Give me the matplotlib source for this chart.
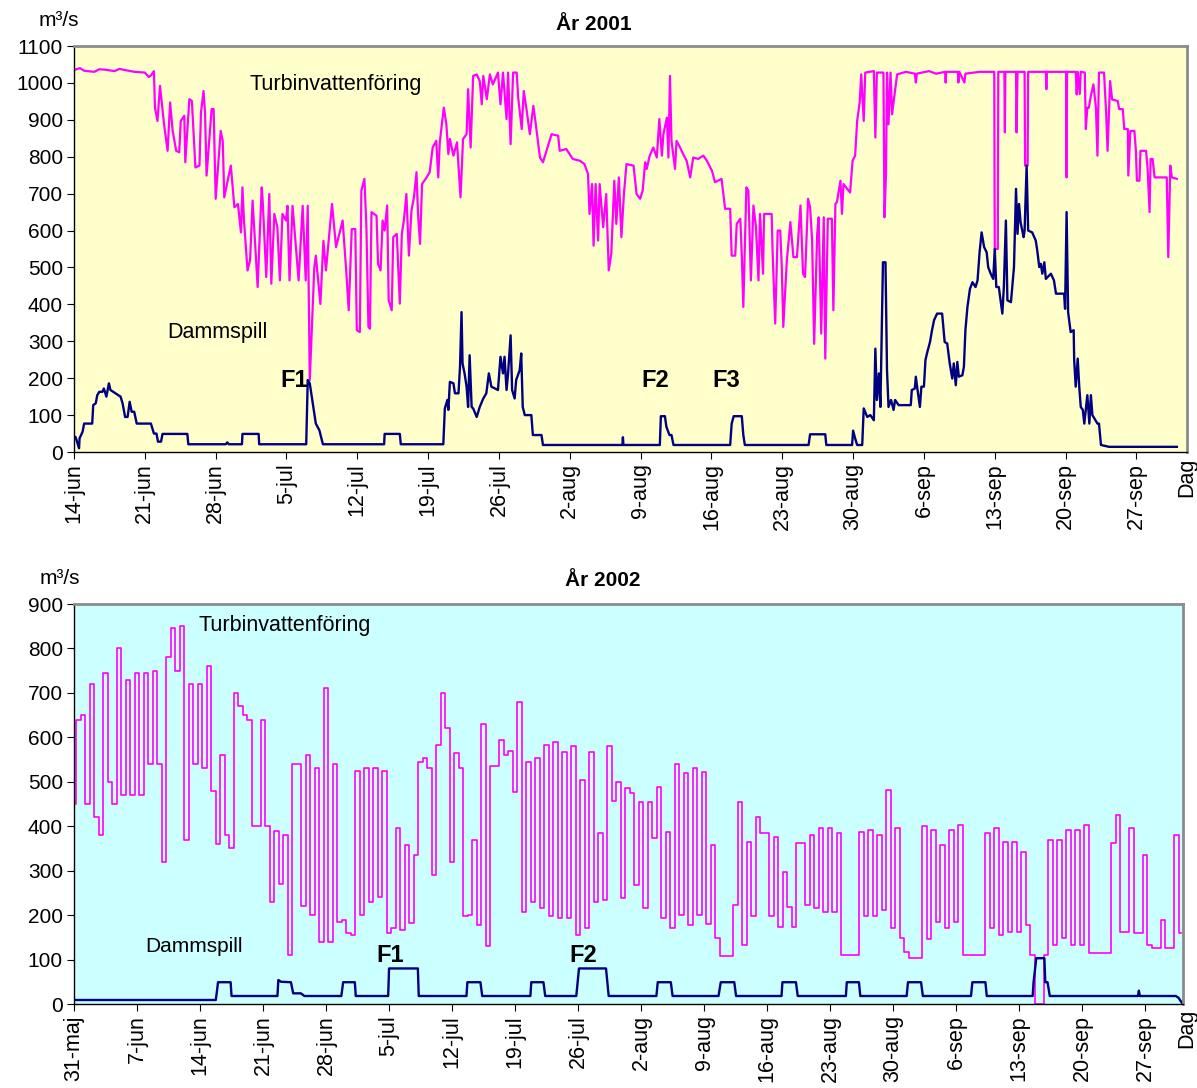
#Turbine flow and dam spill, 2001 and 2002
import numpy as np
import matplotlib
matplotlib.use('Agg')
import matplotlib.pyplot as plt

plt.rcParams['font.family'] = ['Liberation Sans', 'DejaVu Sans']

#---- 2001: (day after 14-jun, m3/s)
turb01 = [(0,1035),(0.6,1040),(1,1033),(2,1030),(2.5,1037),(3,1036),(4,1032),(4.5,1038),(5,1035),(6,1030),(7,1028),
    (7.4,1016),(7.6,1020),(7.9,1032),(8.0,933),(8.25,897),(8.5,992),(8.9,888),(9.25,816),(9.5,947),(9.75,870),
    (10.1,816),(10.4,812),(10.55,897),(10.9,911),(11.0,785),(11.4,956),(11.65,951),(12.0,771),(12.4,776),
    (12.55,920),(12.8,978),(12.95,920),(13.1,749),(13.6,929),(13.8,929),(14.0,686),(14.5,870),(14.7,843),
    (14.85,690),(15.5,776),(15.85,663),(16.2,672),(16.5,595),(16.65,717),(16.8,627),(17.15,492),(17.4,519),
    (17.65,681),(18.15,447),(18.55,717),(18.65,681),(19.0,474),(19.3,699),(19.5,456),(19.8,645),(20.1,609),
    (20.35,465),(20.6,645),(20.95,627),(21.1,667),(21.3,465),(21.6,667),(22.2,465),(22.6,667),(22.9,465),
    (23.1,667),(23.3,195),(23.75,500),(23.9,532),(24.35,401),(24.65,572),(24.9,492),(25.5,672),(25.9,555),
    (26.55,627),(26.9,492),(27.15,384),(27.45,604),(27.8,604),(27.95,330),(28.25,325),(28.4,708),(28.7,740),
    (28.9,609),(29.1,339),(29.25,334),(29.4,650),(29.9,640),(30.05,510),(30.3,492),(30.5,627),(30.7,600),
    (30.95,668),(31.1,411),(31.4,384),(31.55,582),(31.9,591),(32.2,402),(32.4,591),(32.6,627),(32.85,699),
    (33.1,532),(33.35,654),(33.6,690),(33.85,758),(34.0,645),(34.2,564),(34.4,726),(34.85,744),(35.15,758),
    (35.45,825),(35.8,843),(36.0,744),(36.15,839),(36.55,933),(36.8,888),(37.0,807),(37.15,848),(37.5,803),
    (37.85,839),(38.2,690),(38.45,848),(38.8,861),(38.95,983),(39.2,825),(39.45,1019),(39.8,1023),(40.1,1005),
    (40.3,942),(40.45,1019),(40.8,956),(41.1,1023),(41.4,996),(41.9,1028),(42.15,942),(42.4,1028),(42.75,902),
    (42.9,1028),(43.15,834),(43.4,1028),(43.75,1028),(43.9,960),(44.25,875),(44.45,978),(44.7,933),(45.05,861),
    (45.4,938),(45.7,875),(46.05,798),(46.35,785),(46.7,816),(47.2,861),(47.85,857),(48.0,816),(48.65,821),
    (49.3,794),(50.0,789),(50.45,780),(50.8,753),(50.95,645),(51.2,726),(51.35,559),(51.55,726),(51.8,573),
    (51.95,726),(52.3,609),(52.6,699),(52.85,492),(53.1,537),(53.4,735),(53.6,618),(53.85,744),(54.1,582),
    (54.35,699),(54.6,780),(55.3,776),(55.6,699),(55.95,686),(56.2,708),(56.45,785),(56.6,767),(56.9,803),
    (57.25,825),(57.6,798),(57.85,902),(58.1,803),(58.25,861),(58.6,906),(58.75,798),(58.9,1019),(59.05,843),
    (59.4,767),(59.55,843),(59.9,825),(60.2,807),(60.55,789),(60.9,744),(61.2,798),(61.7,794),(62.2,803),
    (62.55,789),(63.05,762),(63.35,731),(64.0,740),(64.35,659),(64.85,659),(65.0,532),(65.35,532),(65.5,618),
    (65.85,632),(66.0,532),(66.15,393),(66.45,717),(66.65,708),(66.9,465),(67.15,668),(67.4,609),(67.65,465),
    (67.8,645),(68.1,483),(68.2,645),(68.95,645),(69.05,537),(69.3,348),(69.55,600),(69.8,600),(69.95,501),
    (70.1,339),(70.45,519),(70.8,623),(71.1,528),(71.45,528),(71.8,668),(72.05,483),(72.25,474),(72.55,686),
    (72.75,663),(72.95,573),(73.15,293),(73.45,591),(73.6,636),(73.85,321),(74.1,636),(74.25,253),(74.5,632),
    (74.9,632),(75.05,384),(75.25,672),(75.4,677),(75.75,735),(75.9,645),(76.05,726),(76.7,703),(76.95,789),
    (77.2,803),(77.4,897),(77.65,947),(77.8,1023),(78.05,897),(78.2,1028),(79.05,1032),(79.2,852),(79.35,1028),
    (80.0,1028),(80.1,636),(80.25,753),(80.35,1028),(80.5,888),(80.7,1028),(80.85,915),(81.35,1023),(82.2,1030),
    (83.1,1025),(83.2,1001),(83.3,1025),(84.5,1032),(85.2,1025),(86.1,1030),(86.15,1001),(86.2,1030),
    (87.35,1030),(87.4,1001),(87.5,1030),(88.0,1001),(88.1,1025),(89.5,1030),(90.95,1030),(91.0,550),(91.3,550),
    (91.35,1030),(91.95,1030),(92.0,866),(92.05,1030),(93.1,1030),(93.15,866),(93.25,1030),(93.95,1030),
    (94.0,776),(94.25,776),(94.3,1030),(96.05,1030),(96.1,983),(96.15,1030),(98.05,1030),(98.1,744),(98.15,1030),
    (99.0,1030),(99.1,969),(99.2,1030),(99.4,970),(99.5,1030),(99.9,1028),(100.0,875),(100.15,933),(100.3,933),
    (100.5,965),(100.75,996),(101.0,933),(101.15,803),(101.3,1028),(101.8,1028),(102.0,924),(102.15,816),
    (102.4,1005),(102.6,955),(103.15,951),(103.3,929),(103.65,929),(103.8,875),(104.15,875),(104.2,749),
    (104.4,870),(104.8,870),(104.95,816),(105.05,735),(105.3,735),(105.4,816),(105.95,816),(106.1,771),
    (106.3,650),(106.4,794),(106.6,794),(106.8,744),(108.0,744),(108.15,528),(108.35,776),(108.5,744),(109.0,740)]

spill01 = [(0,41),(0.15,41),(0.3,28),(0.5,10),(0.55,37),(0.85,55),(1.0,77),(1.8,77),(1.9,127),(2.15,132),
    (2.3,154),(2.5,163),(2.8,163),(2.95,172),(3.2,150),(3.45,186),(3.6,168),(4.1,159),(4.6,150),(4.8,132),
    (5.05,95),(5.3,95),(5.5,136),(5.7,109),(5.95,109),(6.2,77),(7.6,77),(7.9,50),(8.15,50),(8.3,28),(8.6,28),
    (8.75,49),(11.2,49),(11.3,21),(15.0,21),(15.15,26),(15.3,21),(16.6,21),(16.65,49),(18.25,49),(18.3,21),
    (22.95,21),(23.1,195),(23.3,186),(23.65,122),(23.9,77),(24.25,59),(24.6,21),(30.65,21),(30.7,49),(32.2,49),
    (32.3,21),(36.5,21),(36.65,118),(36.75,127),(36.9,141),(37.0,114),(37.15,190),(37.5,186),(37.65,159),
    (38.0,159),(38.15,231),(38.3,379),(38.4,240),(38.6,213),(38.8,177),(38.95,122),(39.1,262),(39.3,122),
    (39.45,118),(39.8,95),(40.1,122),(40.45,145),(40.75,159),(41.0,213),(41.25,177),(41.6,172),(41.9,168),
    (42.15,258),(42.4,213),(42.55,258),(42.75,168),(42.9,213),(43.15,316),(43.3,168),(43.55,145),(43.7,195),
    (44.05,222),(44.2,267),(44.35,122),(44.55,100),(45.2,100),(45.35,46),(46.2,46),(46.35,19),(54.2,19),
    (54.25,40),(54.3,19),(57.9,19),(58.0,97),(58.4,97),(58.55,68),(58.85,46),(59.05,46),(59.25,19),(64.85,19),
    (65.0,77),(65.2,97),(66.0,97),(66.15,46),(66.3,19),(72.6,19),(72.75,48),(74.25,48),(74.35,19),(76.9,19),
    (77.0,58),(77.2,37),(77.4,19),(77.9,19),(78.05,118),(78.4,95),(78.7,100),(79.05,86),(79.2,280),(79.35,141),
    (79.55,213),(79.7,122),(79.95,514),(80.2,514),(80.35,222),(80.5,122),(80.75,141),(81.0,114),(81.15,141),
    (81.5,127),(82.7,127),(82.8,168),(83.1,172),(83.2,204),(83.35,172),(83.6,122),(83.75,177),(84.0,177),
    (84.15,249),(84.3,267),(84.6,298),(84.8,330),(85.0,357),(85.3,375),(85.8,375),(86.05,298),(86.3,294),
    (86.55,240),(86.8,199),(86.95,240),(87.15,181),(87.3,244),(87.45,204),(87.8,208),(87.95,231),(88.1,330),
    (88.3,393),(88.55,442),(88.8,460),(89.1,447),(89.3,465),(89.5,541),(89.7,595),(89.95,555),(90.2,541),
    (90.35,501),(90.6,483),(90.85,469),(91.0,550),(91.15,447),(91.4,447),(91.75,375),(91.9,447),(92.1,627),
    (92.25,411),(92.6,406),(92.9,501),(93.1,713),(93.25,591),(93.4,672),(93.55,623),(93.85,582),(93.95,600),
    (94.15,776),(94.3,600),(94.7,595),(95.05,573),(95.2,546),(95.4,501),(95.55,510),(95.7,483),(95.9,514),
    (96.05,469),(96.55,483),(96.85,465),(97.05,429),(97.85,429),(97.95,388),(98.1,650),(98.25,379),(98.5,325),
    (98.8,330),(98.85,249),(99.0,177),(99.2,253),(99.35,177),(99.5,122),(99.7,114),(99.85,77),(100.15,154),
    (100.35,77),(100.5,154),(100.65,100),(101.15,77),(101.3,77),(101.5,19),(102.3,14),(109.0,14)]

ticks01 = ['14-jun','21-jun','28-jun','5-jul','12-jul','19-jul','26-jul','2-aug','9-aug','16-aug',
           '23-aug','30-aug','6-sep','13-sep','20-sep','27-sep']

#---- 2002: turbine flow every half day from 31-maj, spill as (day, m3/s)
turb02 = [450,640,650,450,720,420,380,745,500,450,
    800,470,730,470,745,470,745,540,750,540,
    320,780,845,750,850,370,720,540,720,530,
    760,480,360,560,380,350,700,670,650,640,
    400,400,640,400,230,390,270,380,110,540,
    540,220,560,200,530,140,710,140,540,185,
    190,160,155,525,200,530,230,530,240,525,
    160,170,395,166,358,182,335,545,553,530,
    290,583,700,621,320,564,530,197,200,369,
    178,629,130,535,535,594,560,570,477,680,
    208,545,230,553,215,583,197,590,193,568,
    193,580,155,504,170,568,230,384,234,580,
    457,500,238,485,475,268,455,215,455,373,
    489,193,388,170,541,200,519,178,530,200,
    523,181,358,148,107,107,107,223,455,133,
    365,197,420,385,385,197,375,174,298,219,
    174,362,362,223,380,215,395,208,395,208,
    384,110,110,110,110,388,197,392,197,380,
    211,482,170,395,148,118,103,103,103,400,
    146,392,185,358,170,392,185,403,110,110,
    110,110,110,384,170,395,155,365,163,365,
    163,343,178,110,0,0,110,369,133,369,
    148,392,133,392,133,403,114,114,114,114,
    114,362,425,163,163,395,159,159,335,133,
    125,125,189,125,125,380,159]

spill02 = [(0,9),(15.75,9),(15.85,24),(16.0,49),(17.4,49),(17.5,18),(22.6,18),(22.7,54),(23.0,50),(24.1,49),
    (24.35,24),(25.2,24),(25.6,18),(29.7,18),(29.9,49),(31.2,49),(31.3,18),(34.9,18),(35.0,80),(38.2,80),
    (38.3,18),(43.6,18),(43.7,49),(45.15,49),(45.35,18),(50.7,18),(50.8,49),(52.15,49),(52.35,18),(55.8,18),
    (56.1,80),(59.1,80),(59.4,18),(64.7,18),(64.85,49),(66.3,49),(66.5,18),(71.6,18),(71.85,49),(73.35,49),
    (73.55,18),(78.6,18),(78.7,49),(80.2,49),(80.4,18),(85.75,18),(85.85,49),(87.2,49),(87.35,18),(92.5,18),
    (92.65,49),(94.1,49),(94.3,18),(99.65,18),(99.8,49),(101.25,49),(101.4,18),(106.5,18),(106.6,49),
    (106.9,103),(107.8,103),(107.9,49),(108.15,49),(108.4,18),(118.2,18),(118.3,30),(118.4,18),(122.4,18),
    (122.7,14),(123.1,2)]

ticks02 = ['31-maj','7-jun','14-jun','21-jun','28-jun','5-jul','12-jul','19-jul','26-jul','2-aug','9-aug',
           '16-aug','23-aug','30-aug','6-sep','13-sep','20-sep','27-sep']

W,H = 1197.,1088.
fig = plt.figure(figsize=(W/100,H/100),dpi=100)
ax1 = fig.add_axes([74/W,1-452/H,(1187-74)/W,(452-46)/H])
ax2 = fig.add_axes([74/W,1-1004/H,(1183-74)/W,(1004-604)/H])

magenta = '#FF00FF'
navy = '#000080'

t1,q1 = np.array(turb01).T
s1d,s1 = np.array(spill01).T
ax1.plot(t1,q1,c=magenta,lw=1.6)
ax1.plot(s1d,s1,c=navy,lw=1.7)

t2 = np.arange(len(turb02))*0.5
s2d,s2 = np.array(spill02).T
ax2.plot(t2,turb02,c=magenta,lw=1.2,drawstyle='steps-mid')
ax2.plot(s2d,s2,c=navy,lw=1.7)

def style(ax,bg,ymax,ticklabels,xmax):
    ax.set_facecolor(bg)
    ax.set_ylim(0,ymax)
    ax.set_yticks(np.arange(0,ymax+1,100))
    ax.set_xlim(0,xmax)
    ax.set_xticks(np.arange(len(ticklabels))*7)
    ax.set_xticklabels(ticklabels,rotation=90)
    ax.tick_params(axis='y',direction='out',length=5,labelsize=15,pad=3)
    ax.tick_params(axis='x',direction='out',length=5,labelsize=15.5,pad=3)
    for s in ['left','bottom']:
        ax.spines[s].set_color('black')
        ax.spines[s].set_linewidth(1.0)
    for s in ['top','right']:
        ax.spines[s].set_color('#8c8c8c')
        ax.spines[s].set_linewidth(2.0)

style(ax1,'#FFFFCC',1100,ticks01,110.0)
style(ax2,'#CCFFFF',900,ticks02,123.2)

#text
ax1.text(17.3,997,'Turbinvattenföring',fontsize=15.5,va='center',ha='left')
ax1.text(9.2,325,'Dammspill',fontsize=15.5,va='center',ha='left')
for lab,x in [('F1',21.8),('F2',57.4),('F3',64.5)]:
    ax1.text(x,195,lab,fontsize=17,fontweight='bold',ha='center',va='center')
ax2.text(13.8,851,'Turbinvattenföring',fontsize=15.5,va='center',ha='left')
ax2.text(7.9,130,'Dammspill',fontsize=15,va='center',ha='left')
for lab,x in [('F1',35.1),('F2',56.6)]:
    ax2.text(x,108,lab,fontsize=17,fontweight='bold',ha='center',va='center')

fig.text(594/W,1-24/H,'År 2001',fontsize=15,fontweight='bold',ha='center',va='center')
fig.text(603/W,1-580/H,'År 2002',fontsize=15,fontweight='bold',ha='center',va='center')
fig.text(59/W,1-21/H,'m³/s',fontsize=15,ha='center',va='center')
fig.text(60/W,1-579/H,'m³/s',fontsize=15,ha='center',va='center')
fig.text(1187/W,1-458/H,'Dag',fontsize=15.5,rotation=90,ha='center',va='top')
fig.text(1187/W,1-1009/H,'Dag',fontsize=15.5,rotation=90,ha='center',va='top')

fig.savefig('out.png',dpi=100)
